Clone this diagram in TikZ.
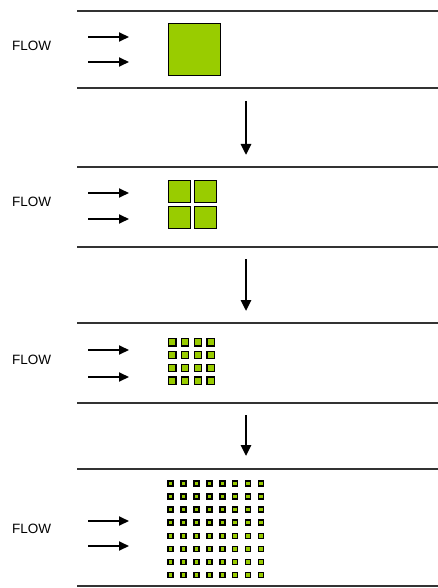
\documentclass[tikz,border=0pt]{standalone}
\usepackage{fontspec}
\setmainfont{Liberation Sans}
\usetikzlibrary{arrows.meta}
\definecolor{cgreen}{HTML}{99CC00}
\definecolor{cline}{HTML}{333333}
\begin{document}
\begin{tikzpicture}[x=1pt,y=-1pt,
  wall/.style={draw=cline,line width=1.4pt},
  flowarrow/.style={draw=black,line width=2pt,-{Triangle[length=10pt,width=9pt]}},
  steparrow/.style={draw=black,line width=2.6pt,-{Triangle[length=11pt,width=10pt]}},
  cell/.style={draw=black,fill=cgreen,line width=1pt},
  flowlabel/.style={font=\fontsize{13.5}{14}\selectfont,anchor=west,inner sep=0pt}]
\useasboundingbox (0,0) rectangle (438,588);
% panel lines
\foreach \t/\b [count=\i] in {11/88,167/247,323/403,469/586}{
  \coordinate (tl\i) at (77,\t); \coordinate (tr\i) at (438,\t);
  \coordinate (bl\i) at (77,\b); \coordinate (br\i) at (438,\b);
  \draw[wall] (tl\i) -- (tr\i);
  \draw[wall] (bl\i) -- (br\i);
}
% labels and flow arrows
\foreach \ly/\ya/\yb [count=\i] in {46/37/62, 202/193/219, 360/350/377, 529/521/546}{
  \node[flowlabel] (flow\i) at (12,\ly) {FLOW};
  \coordinate (fa\i s) at (88,\ya); \coordinate (fa\i e) at (129,\ya);
  \coordinate (fb\i s) at (88,\yb); \coordinate (fb\i e) at (129,\yb);
  \draw[flowarrow] (fa\i s) -- (fa\i e);
  \draw[flowarrow] (fb\i s) -- (fb\i e);
}
% step arrows
\foreach \s/\e [count=\i] in {101/155, 259/311, 415/456}{
  \coordinate (vs\i) at (246,\s); \coordinate (ve\i) at (246,\e);
  \draw[steparrow] (vs\i) -- (ve\i);
}
% panel 1
\draw[cell] (168,24) rectangle (220,76);
% panel 2
\foreach \c in {0,1}\foreach \r in {0,1}
  \draw[cell] ({168+26*\c},{180+26*\r}) rectangle ++(22,22);
% panel 3
\foreach \c in {0,...,3}\foreach \r in {0,...,3}
  \draw[cell,line width=1.2pt] ({168.5+12.8*\c},{338.5+12.8*\r}) rectangle ++(7.5,7.5);
% panel 4
\foreach \c in {0,...,7}\foreach \r in {0,...,7}
  \draw[cell,line width=1.4pt] ({168+12.95*\c},{481+13.05*\r}) rectangle ++(5,5);
\end{tikzpicture}
\end{document}
